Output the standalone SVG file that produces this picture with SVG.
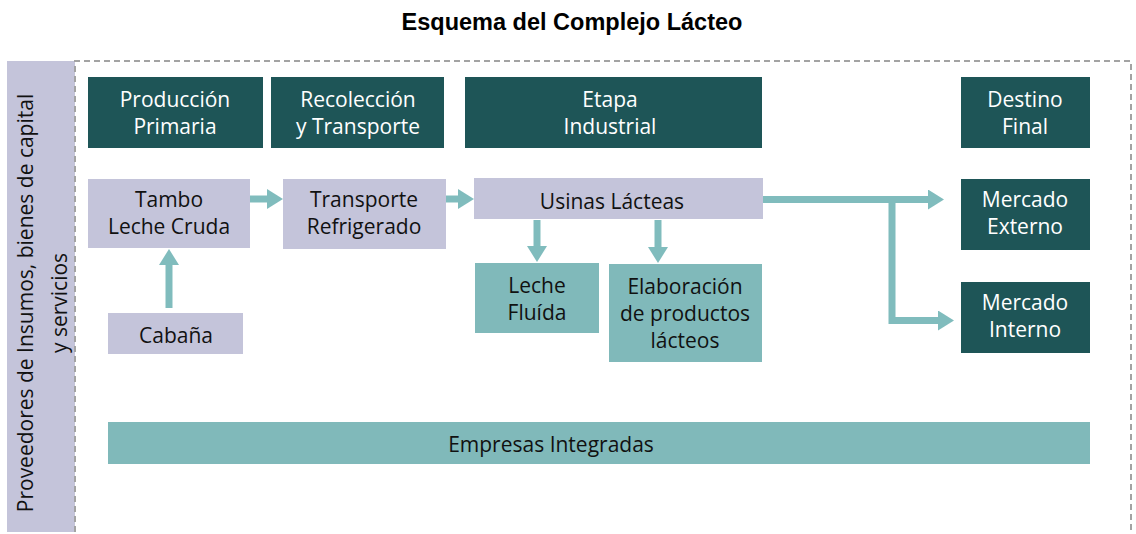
<svg xmlns="http://www.w3.org/2000/svg" width="1136" height="534" viewBox="0 0 1136 534">
<style>
  .dark { fill: #1E5557; }
  .lav { fill: #C4C4DA; }
  .teal { fill: #80B9BA; }
  .t { font-family: "Open Sans", "Noto Sans", sans-serif; font-size: 21px; text-anchor: middle; fill: #111111; }
  .w { fill: #FFFFFF; }
  .title { font-family: "Liberation Sans", Arial, sans-serif; font-weight: bold; font-size: 23.5px; text-anchor: middle; fill: #000000; }
  .conn { fill: none; stroke: #80BCBD; stroke-width: 7; stroke-linejoin: miter; }
  .dash { fill: none; stroke: #A3A3A3; stroke-width: 2; stroke-dasharray: 6 4; }
</style>
<defs>
  <marker id="ah" viewBox="0 0 16 20" refX="0" refY="10" markerWidth="16" markerHeight="20" markerUnits="userSpaceOnUse" orient="auto">
    <path d="M0,0 L16,10 L0,20 Z" fill="#80BCBD"/>
  </marker>
</defs>
<rect width="1136" height="534" fill="#FFFFFF"/>
<text class="title" x="572" y="30">Esquema del Complejo Lácteo</text>

<g id="proveedores">
  <rect class="lav" x="7" y="61" width="68" height="471"/>
  <text class="t" transform="translate(33,303) rotate(-90)">Proveedores de Insumos, bienes de capital</text>
  <text class="t" transform="translate(67,303) rotate(-90)">y servicios</text>
</g>
<path class="dash" d="M75,532 V61 H1131 V534"/>

<g id="h-produccion">
  <rect class="dark" x="88" y="77" width="175" height="71"/>
  <text class="t w" x="175" y="107">Producción</text>
  <text class="t w" x="175" y="134">Primaria</text>
</g>
<g id="h-recoleccion">
  <rect class="dark" x="271" y="77" width="173" height="71"/>
  <text class="t w" x="358" y="107">Recolección</text>
  <text class="t w" x="358" y="134">y Transporte</text>
</g>
<g id="h-industrial">
  <rect class="dark" x="465" y="77" width="297" height="71"/>
  <text class="t w" x="610" y="107">Etapa</text>
  <text class="t w" x="610" y="134">Industrial</text>
</g>
<g id="h-destino">
  <rect class="dark" x="961" y="77" width="129" height="71"/>
  <text class="t w" x="1025" y="107">Destino</text>
  <text class="t w" x="1025" y="134">Final</text>
</g>

<g id="tambo">
  <rect class="lav" x="88" y="179" width="162" height="69"/>
  <text class="t" x="169" y="207">Tambo</text>
  <text class="t" x="169" y="234">Leche Cruda</text>
</g>
<g id="transporte">
  <rect class="lav" x="283" y="179" width="163" height="70"/>
  <text class="t" x="364" y="207">Transporte</text>
  <text class="t" x="364" y="234">Refrigerado</text>
</g>
<g id="usinas">
  <rect class="lav" x="474" y="178" width="289" height="41"/>
  <text class="t" x="612" y="209">Usinas Lácteas</text>
</g>
<g id="leche-fluida">
  <rect class="teal" x="475" y="263" width="124" height="70"/>
  <text class="t" x="537" y="293">Leche</text>
  <text class="t" x="537" y="320">Fluída</text>
</g>
<g id="elaboracion">
  <rect class="teal" x="609" y="264" width="153" height="98"/>
  <text class="t" x="685" y="294">Elaboración</text>
  <text class="t" x="685" y="321">de productos</text>
  <text class="t" x="685" y="348">lácteos</text>
</g>
<g id="mercado-externo">
  <rect class="dark" x="961" y="179" width="129" height="71"/>
  <text class="t w" x="1025" y="207">Mercado</text>
  <text class="t w" x="1025" y="234">Externo</text>
</g>
<g id="mercado-interno">
  <rect class="dark" x="961" y="282" width="129" height="71"/>
  <text class="t w" x="1025" y="310">Mercado</text>
  <text class="t w" x="1025" y="337">Interno</text>
</g>
<g id="cabana">
  <rect class="lav" x="108" y="313" width="135" height="41"/>
  <text class="t" x="176" y="343">Cabaña</text>
</g>
<g id="empresas">
  <rect class="teal" x="108" y="422" width="982" height="42"/>
  <text class="t" x="551" y="452">Empresas Integradas</text>
</g>

<g id="connectors">
  <path class="conn" d="M169,308 V265" marker-end="url(#ah)"/>
  <path class="conn" d="M250,199 H267" marker-end="url(#ah)"/>
  <path class="conn" d="M446,199 H458" marker-end="url(#ah)"/>
  <path class="conn" d="M537,220 V246" marker-end="url(#ah)"/>
  <path class="conn" d="M658,220 V247" marker-end="url(#ah)"/>
  <path class="conn" d="M763,199.5 H928" marker-end="url(#ah)"/>
  <path class="conn" d="M892,199.5 V320.5 H938" marker-end="url(#ah)"/>
</g>
</svg>
